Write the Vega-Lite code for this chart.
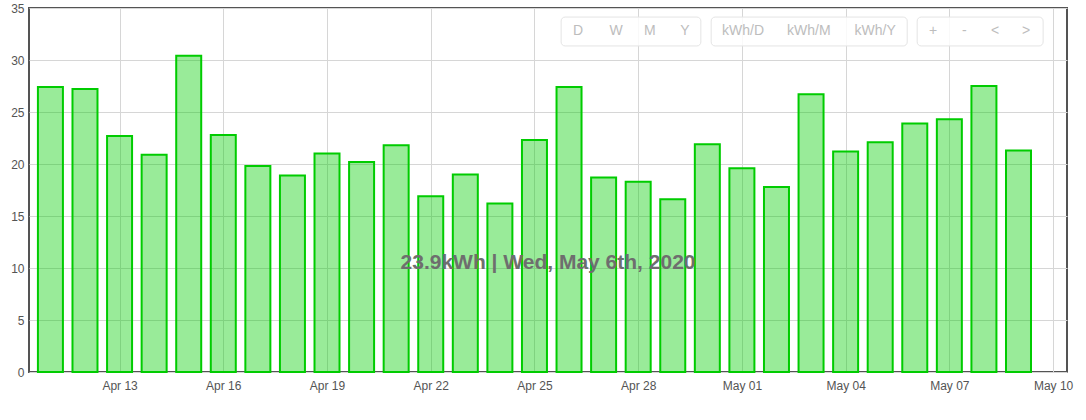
{
  "$schema": "https://vega.github.io/schema/vega-lite/v6.json",
  "width": 1038,
  "height": 364,
  "autosize": {"type": "none"},
  "padding": {"left": 29, "top": 8, "right": 19, "bottom": 48},
  "config": {
    "font": "Liberation Sans",
    "view": {"stroke": "#545454", "strokeWidth": 2},
    "axis": {
      "grid": true,
      "gridColor": "#d6d6d6",
      "gridWidth": 1,
      "ticks": false,
      "domain": false,
      "labelFont": "Liberation Sans",
      "labelFontSize": 12,
      "labelColor": "#545454",
      "title": null
    }
  },
  "datasets": {
    "daily": [
      {"day": "2020-04-11T00:00", "kwh": 27.4},
      {"day": "2020-04-12T00:00", "kwh": 27.2},
      {"day": "2020-04-13T00:00", "kwh": 22.7},
      {"day": "2020-04-14T00:00", "kwh": 20.9},
      {"day": "2020-04-15T00:00", "kwh": 30.4},
      {"day": "2020-04-16T00:00", "kwh": 22.8},
      {"day": "2020-04-17T00:00", "kwh": 19.8},
      {"day": "2020-04-18T00:00", "kwh": 18.9},
      {"day": "2020-04-19T00:00", "kwh": 21.0},
      {"day": "2020-04-20T00:00", "kwh": 20.2},
      {"day": "2020-04-21T00:00", "kwh": 21.8},
      {"day": "2020-04-22T00:00", "kwh": 16.9},
      {"day": "2020-04-23T00:00", "kwh": 19.0},
      {"day": "2020-04-24T00:00", "kwh": 16.2},
      {"day": "2020-04-25T00:00", "kwh": 22.3},
      {"day": "2020-04-26T00:00", "kwh": 27.4},
      {"day": "2020-04-27T00:00", "kwh": 18.7},
      {"day": "2020-04-28T00:00", "kwh": 18.3},
      {"day": "2020-04-29T00:00", "kwh": 16.6},
      {"day": "2020-04-30T00:00", "kwh": 21.9},
      {"day": "2020-05-01T00:00", "kwh": 19.6},
      {"day": "2020-05-02T00:00", "kwh": 17.8},
      {"day": "2020-05-03T00:00", "kwh": 26.7},
      {"day": "2020-05-04T00:00", "kwh": 21.2},
      {"day": "2020-05-05T00:00", "kwh": 22.1},
      {"day": "2020-05-06T00:00", "kwh": 23.9},
      {"day": "2020-05-07T00:00", "kwh": 24.3},
      {"day": "2020-05-08T00:00", "kwh": 27.5},
      {"day": "2020-05-09T00:00", "kwh": 21.3}
    ],
    "groups": [
      {"from": "2020-04-25T18:30", "to": "2020-04-29T19:30"},
      {"from": "2020-04-30T02:40", "to": "2020-05-05T18:45"},
      {"from": "2020-05-06T01:40", "to": "2020-05-09T17:05"}
    ],
    "buttons": [
      {"label": "D", "at": "2020-04-26T06:15"},
      {"label": "W", "at": "2020-04-27T08:40"},
      {"label": "M", "at": "2020-04-28T08:10"},
      {"label": "Y", "at": "2020-04-29T08:30"},
      {"label": "kWh/D", "at": "2020-05-01T00:50"},
      {"label": "kWh/M", "at": "2020-05-02T22:30"},
      {"label": "kWh/Y", "at": "2020-05-04T20:30"},
      {"label": "+", "at": "2020-05-06T12:45"},
      {"label": "-", "at": "2020-05-07T10:20"},
      {"label": "<", "at": "2020-05-08T07:45"},
      {"label": ">", "at": "2020-05-09T05:20"}
    ]
  },
  "encoding": {
    "x": {
      "type": "temporal",
      "scale": {
        "domain": [
          {"year": 2020, "month": 4, "date": 10, "hours": 9, "minutes": 8},
          {"year": 2020, "month": 5, "date": 10, "hours": 9, "minutes": 40}
        ],
        "padding": 0
      },
      "axis": {
        "format": "%b %d",
        "tickCount": {"interval": "day", "step": 3},
        "labelPadding": 8
      }
    },
    "y": {
      "type": "quantitative",
      "scale": {"domain": [0, 35], "nice": false, "padding": 0},
      "axis": {"values": [0, 5, 10, 15, 20, 25, 30, 35], "labelPadding": 5}
    }
  },
  "layer": [
    {
      "data": {"name": "daily"},
      "mark": {
        "type": "bar",
        "size": 25,
        "color": "#00cc00",
        "fillOpacity": 0.4,
        "stroke": "#00cc00",
        "strokeWidth": 2
      },
      "encoding": {
        "x": {"field": "day"},
        "y": {"field": "kwh"}
      }
    },
    {
      "data": {"name": "groups"},
      "mark": {
        "type": "rect",
        "fill": "#ffffff",
        "fillOpacity": 0.85,
        "stroke": "#e4e4e4",
        "strokeWidth": 1,
        "cornerRadius": 4
      },
      "encoding": {
        "x": {"field": "from"},
        "x2": {"field": "to"},
        "y": {"datum": 34.13},
        "y2": {"datum": 31.35}
      }
    },
    {
      "data": {"name": "buttons"},
      "mark": {
        "type": "text",
        "fontSize": 14,
        "color": "#bdbdbd",
        "baseline": "middle",
        "align": "center"
      },
      "encoding": {
        "x": {"field": "at"},
        "y": {"datum": 32.75},
        "text": {"field": "label"}
      }
    },
    {
      "data": {"values": [{"label": "23.9kWh | Wed, May 6th, 2020"}]},
      "mark": {
        "type": "text",
        "fontSize": 21,
        "fontWeight": "bold",
        "color": "#6e6e6e",
        "baseline": "middle",
        "align": "center"
      },
      "encoding": {
        "x": {"datum": {"year": 2020, "month": 4, "date": 25, "hours": 9, "minutes": 25}},
        "y": {"datum": 10.48},
        "text": {"field": "label"}
      }
    }
  ]
}
